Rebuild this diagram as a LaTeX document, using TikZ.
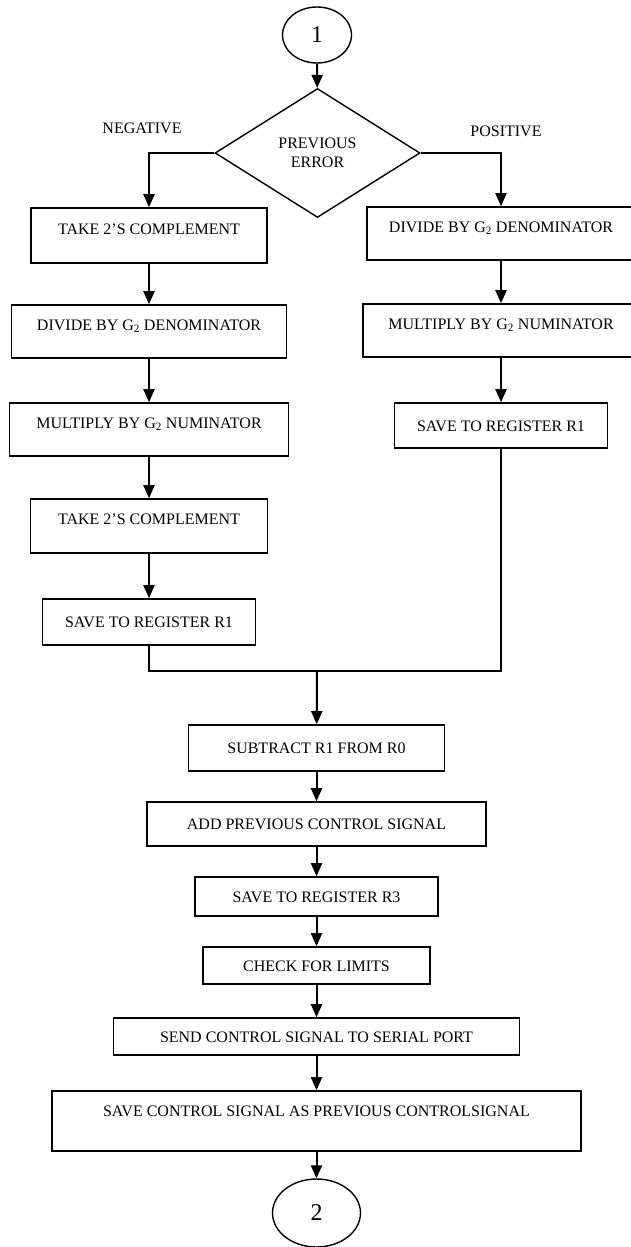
\documentclass[tikz,border=0pt]{standalone}
\usepackage{fontspec}
\setmainfont{Liberation Serif}
\usepackage{tikz}
\usetikzlibrary{arrows.meta,positioning,shapes.geometric}

\begin{document}
\begin{tikzpicture}[
  x=1pt, y=-1pt,
  font=\fontsize{16}{19}\selectfont,
  stepbox/.style={draw=black, line width=1.6pt, rectangle, align=center, inner sep=0pt, text height=11pt, text depth=0pt},
  hightext/.style={text depth=14pt},
  conn/.style={draw=black, ellipse, line width=1.4pt, inner sep=0pt, font=\fontsize{24}{28}\selectfont},
  dec/.style={draw=black, diamond, line width=1.4pt, inner sep=0pt, align=center},
  arr/.style={-{Triangle[length=13pt, width=11pt]}, line width=2pt},
  wire/.style={line width=2pt},
  lbl/.style={inner sep=0pt},
]
  \useasboundingbox (0,0) rectangle (631,1247);
  \clip (0,0) rectangle (631,1247);

  \node[conn, minimum width=69pt, minimum height=56pt] (start) at (317,35) {1};
  \node[dec, minimum width=205pt, minimum height=129pt] (err) at (317.5,153) {PREVIOUS\\ERROR};
  \node[lbl] (neg) at (142,128) {NEGATIVE};
  \node[lbl] (pos) at (506,131) {POSITIVE};

  % negative branch
  \node[stepbox, hightext, minimum width=236pt, minimum height=55pt] (ncomp)  at (149,235.5) {TAKE 2'S COMPLEMENT};
  \node[stepbox, hightext, minimum width=275pt, minimum height=53pt] (ndiv)   at (149,331.5) {DIVIDE BY G\textsubscript{2} DENOMINATOR};
  \node[stepbox, hightext, minimum width=279pt, minimum height=53pt] (nmul)   at (149,429.5) {MULTIPLY BY G\textsubscript{2} NUMINATOR};
  \node[stepbox, hightext, minimum width=237pt, minimum height=54pt] (ncomp2) at (149,526)   {TAKE 2'S COMPLEMENT};
  \node[stepbox, minimum width=213pt, minimum height=46pt]           (nsave)  at (149,622)   {SAVE TO REGISTER R1};

  % positive branch
  \node[stepbox, hightext, minimum width=268pt, minimum height=53pt] (pdiv)  at (501,233.5) {DIVIDE BY G\textsubscript{2} DENOMINATOR};
  \node[stepbox, hightext, minimum width=276pt, minimum height=53pt] (pmul)  at (501,330.5) {MULTIPLY BY G\textsubscript{2} NUMINATOR};
  \node[stepbox, minimum width=213pt, minimum height=45pt]           (psave) at (501,425.5) {SAVE TO REGISTER R1};

  \coordinate (join) at (317,671);

  % common part
  \node[stepbox, minimum width=256pt, minimum height=46pt] (sub)   at (316.5,748)   {SUBTRACT R1 FROM R0};
  \node[stepbox, minimum width=339pt, minimum height=44pt] (add)   at (316.5,824)   {ADD PREVIOUS CONTROL SIGNAL};
  \node[stepbox, minimum width=243pt, minimum height=39pt] (save3) at (316.5,896.5) {SAVE TO REGISTER R3};
  \node[stepbox, minimum width=227pt, minimum height=37pt] (lim)   at (316.5,965.5) {CHECK FOR LIMITS};
  \node[stepbox, minimum width=406pt, minimum height=37pt] (send)  at (316.5,1036.5) {SEND CONTROL SIGNAL TO SERIAL PORT};
  \node[stepbox, text depth=20pt, minimum width=529pt, minimum height=60pt] (keep) at (316.5,1121) {SAVE CONTROL SIGNAL AS PREVIOUS CONTROLSIGNAL};
  \node[conn, minimum width=88pt, minimum height=68pt] (stop) at (316.5,1213) {2};

  \draw[arr] (start) -- (err);
  \draw[arr] (err.west) -| (ncomp);
  \draw[arr] (err.east) -| (pdiv);

  \draw[arr] (ncomp)  -- (ndiv);
  \draw[arr] (ndiv)   -- (nmul);
  \draw[arr] (nmul)   -- (ncomp2);
  \draw[arr] (ncomp2) -- (nsave);

  \draw[arr] (pdiv) -- (pmul);
  \draw[arr] (pmul) -- (psave);

  \draw[wire] (nsave) |- (join);
  \draw[wire] (psave) |- (join);
  \draw[arr]  (join)  -- (sub);

  \draw[arr] (sub)   -- (add);
  \draw[arr] (add)   -- (save3);
  \draw[arr] (save3) -- (lim);
  \draw[arr] (lim)   -- (send);
  \draw[arr] (send)  -- (keep);
  \draw[arr] (keep)  -- (stop);
\end{tikzpicture}
\end{document}
